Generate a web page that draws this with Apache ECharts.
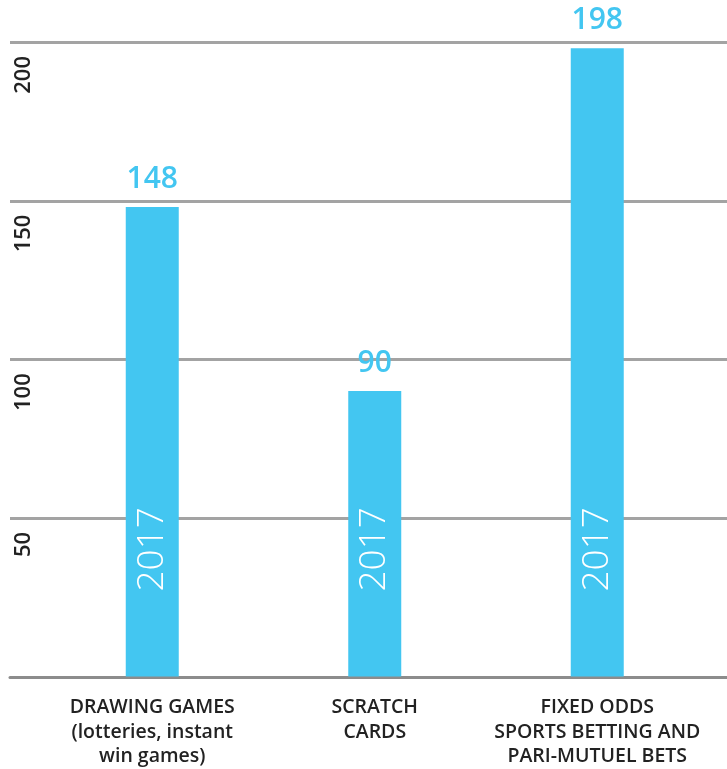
<!DOCTYPE html>
<html>
<head>
    <meta charset="utf-8" />
    <script src="https://cdn.jsdelivr.net/npm/echarts@6/dist/echarts.min.js"></script>
    <style type="text/css">
    html, body { margin: 0; padding: 0; background: #fff; }
    #chart { width: 727px; height: 769px; }
    </style>
</head>
<body>
    <div id="chart"></div>
    <script type="text/javascript">
    let categories = ['DRAWING GAMES\n(lotteries, instant\nwin games)', 'SCRATCH\nCARDS', 'FIXED ODDS\nSPORTS BETTING AND\nPARI-MUTUEL BETS'];
    let values = [148, 90, 198];
    let yearLabel = '2017';
    let yTicks = [0, 50, 100, 150, 200];

    let blue = '#43c6f1';
    let font = 'Open Sans';

    let chart = echarts.init(document.getElementById('chart'));

    let opt = {
        animation: false,
        grid: [
            // background grid for the full-width lines
            { left: 10, right: 0, top: 42, bottom: 92 },
            // grid carrying the bars
            { left: 41, right: 18.5, top: 42, bottom: 92 }
        ],
        xAxis: [{
            gridIndex: 0,
            type: 'category',
            data: [''],
            axisLine: { show: true, lineStyle: { color: '#8c8c8c', width: 3 } },
            axisTick: { show: false },
            axisLabel: { show: false }
        }, {
            gridIndex: 1,
            type: 'category',
            data: categories,
            axisLine: { show: false },
            axisTick: { show: false },
            axisLabel: {
                margin: 19,
                color: '#222',
                fontFamily: font,
                fontSize: 19.5,
                fontWeight: 600,
                lineHeight: 24.5,
                interval: 0
            }
        }],
        yAxis: [{
            gridIndex: 0,
            type: 'value',
            min: yTicks[0],
            max: yTicks[yTicks.length - 1],
            interval: 50,
            axisLine: { show: false },
            axisTick: { show: false },
            axisLabel: { show: false },
            splitLine: { show: true, lineStyle: { color: '#a3a3a3', width: 3 } }
        }, {
            gridIndex: 1,
            type: 'value',
            min: yTicks[0],
            max: yTicks[yTicks.length - 1],
            interval: 50,
            axisLine: { show: false },
            axisTick: { show: false },
            splitLine: { show: false },
            axisLabel: {
                margin: 17,
                rotate: 90,
                align: 'right',
                verticalAlign: 'middle',
                padding: [0, 14, 0, 0],
                color: '#222',
                fontFamily: font,
                fontSize: 22,
                fontWeight: 600,
                formatter: function (v) { return v === 0 ? '' : String(v); }
            }
        }],
        series: [{
            type: 'bar',
            xAxisIndex: 1,
            yAxisIndex: 1,
            data: values,
            barWidth: 53,
            itemStyle: { color: blue },
            label: {
                show: true,
                position: 'top',
                distance: 13,
                color: blue,
                fontFamily: font,
                fontSize: 30,
                fontWeight: 600
            },
            z: 3
        }, {
            // year label placed inside each bar
            type: 'bar',
            xAxisIndex: 1,
            yAxisIndex: 1,
            data: values,
            barWidth: 53,
            barGap: '-100%',
            itemStyle: { color: 'rgba(0,0,0,0)' },
            label: {
                show: true,
                position: 'insideBottom',
                distance: 85,
                rotate: 90,
                align: 'left',
                verticalAlign: 'middle',
                color: '#fff',
                fontFamily: font,
                fontSize: 37,
                fontWeight: 300,
                formatter: function () { return yearLabel; }
            },
            z: 4
        }]
    };

    chart.setOption(opt);
    </script>
</body>
</html>
